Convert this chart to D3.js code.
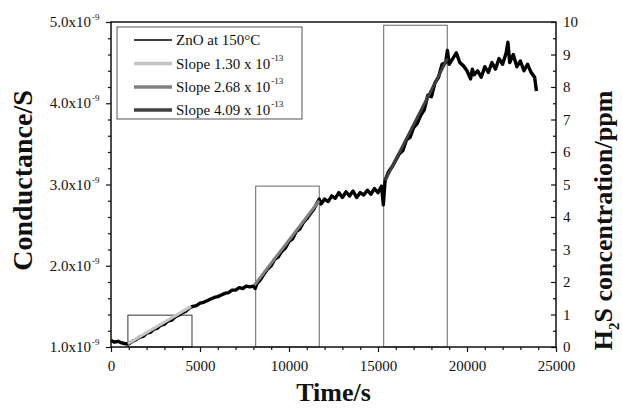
<!DOCTYPE html>
<html><head><meta charset="utf-8">
<script src="https://cdn.jsdelivr.net/npm/d3@7"></script>
<style>body{margin:0;background:#fff}svg{display:block}text{font-family:"Liberation Serif","Times New Roman",serif;fill:#111}</style>
</head><body>
<svg id="c" width="622" height="409"></svg>
<script>
// ---- data ----
const time = [0,200,400,600,800,1000,1200,1400,1600,1800,2000,2200,2400,2600,2800,3000,3200,3400,3600,3800,4000,4200,4400,4600,4800,5000,5200,5400,5600,5800,6000,6200,6400,6600,6800,7000,7200,7400,7600,7800,8000,8100,8200,8400,8600,8800,9000,9200,9400,9600,9800,10000,10200,10400,10600,10800,11000,11200,11400,11600,11700,11800,12000,12200,12400,12600,12800,13000,13200,13400,13600,13800,14000,14200,14400,14600,14800,15000,15200,15300,15400,15600,15800,16000,16200,16400,16600,16800,17000,17200,17400,17600,17800,18000,18200,18400,18600,18800,18900,19000,19200,19400,19600,19800,20000,20200,20300,20400,20600,20800,21000,21200,21400,21600,21800,22000,22200,22300,22400,22600,22800,23000,23200,23400,23600,23800,23900];
const conductance = [1.08,1.06,1.07,1.05,1.04,1.04,1.07,1.09,1.12,1.13,1.17,1.18,1.22,1.23,1.27,1.28,1.32,1.33,1.37,1.39,1.42,1.44,1.48,1.50,1.51,1.54,1.55,1.57,1.59,1.61,1.62,1.64,1.66,1.67,1.70,1.70,1.73,1.72,1.75,1.74,1.75,1.72,1.78,1.83,1.90,1.96,2.00,2.08,2.11,2.18,2.22,2.30,2.33,2.42,2.45,2.53,2.58,2.64,2.70,2.78,2.82,2.76,2.82,2.79,2.86,2.83,2.90,2.84,2.91,2.86,2.92,2.84,2.90,2.87,2.93,2.88,2.95,2.90,2.98,2.75,3.05,3.16,3.22,3.30,3.38,3.42,3.55,3.58,3.70,3.75,3.85,3.92,4.10,4.08,4.25,4.32,4.48,4.50,4.65,4.48,4.55,4.62,4.50,4.46,4.40,4.30,4.42,4.35,4.40,4.32,4.45,4.38,4.50,4.42,4.55,4.48,4.62,4.75,4.50,4.60,4.45,4.52,4.40,4.48,4.38,4.32,4.15]; // x1e-9 S
const slopeNames = ["Slope 1.30 x 10","Slope 2.68 x 10","Slope 4.09 x 10"];
const slopeT0 = [950,8050,15400], slopeT1 = [4500,11700,18900];
const slopeG0 = [1.04,1.76,3.05], slopeG1 = [1.50,2.80,4.55];
const slopeColors = ["#c4c4c4","#808080","#404040"];
const pulseStart = [950,8130,15320], pulseEnd = [4550,11700,18890], pulseConc = [0.98,4.95,9.9];
const leftTicks = [1,2,3,4,5], rightTicks = [0,1,2,3,4,5,6,7,8,9,10], xTicks = [0,5000,10000,15000,20000,25000];

// ---- layout ----
const svg = d3.select("#c");
const L=111, R=556, T=22, B=347;
const x = d3.scaleLinear().domain([0,25000]).range([L,R]);
const y = d3.scaleLinear().domain([1,5]).range([B,T]);
const y2 = d3.scaleLinear().domain([0,10]).range([B,T]);

// concentration pulses
pulseStart.forEach((s,i)=>{
  svg.append("rect").attr("x",x(s)).attr("y",y2(pulseConc[i])).attr("width",x(pulseEnd[i])-x(s)).attr("height",y2(0)-y2(pulseConc[i]))
    .attr("fill","none").attr("stroke",i===0?"#333":"#666").attr("stroke-width",1);
});

// main line
const line = d3.line().x((d,i)=>x(time[i])).y(d=>y(d));
svg.append("path").datum(conductance).attr("d",line).attr("fill","none").attr("stroke","#000").attr("stroke-width",3.4).attr("stroke-linejoin","round");

// slope lines
slopeT0.forEach((t,i)=>{
  svg.append("line").attr("x1",x(t)).attr("y1",y(slopeG0[i])).attr("x2",x(slopeT1[i])).attr("y2",y(slopeG1[i]))
    .attr("stroke",slopeColors[i]).attr("stroke-width",3);
});

// frame
svg.append("rect").attr("x",L).attr("y",T).attr("width",R-L).attr("height",B-T).attr("fill","none").attr("stroke","#111").attr("stroke-width",1.5);

// axes
const xAx = d3.axisBottom(x).tickValues(xTicks).tickSize(5).tickFormat(d3.format("d"));
const gx = svg.append("g").attr("transform",`translate(0,${B})`).call(xAx);
gx.select(".domain").remove();
gx.selectAll("text").attr("font-size",15).attr("dy","1.05em");
const gxm = svg.append("g").attr("transform",`translate(0,${B})`).call(d3.axisBottom(x).tickValues(d3.range(0,25001,1000).filter(v=>v%5000)).tickSize(3).tickFormat(""));
gxm.select(".domain").remove();

const yAx = d3.axisLeft(y).tickValues(leftTicks).tickSize(5).tickFormat("");
const gy = svg.append("g").attr("transform",`translate(${L},0)`).call(yAx);
gy.select(".domain").remove();
const gym = svg.append("g").attr("transform",`translate(${L},0)`).call(d3.axisLeft(y).tickValues(d3.range(1,5.01,0.2).filter(v=>Math.abs(v-Math.round(v))>0.01)).tickSize(3).tickFormat(""));
gym.select(".domain").remove();
leftTicks.forEach(v=>{
  const t = svg.append("text").attr("x",91).attr("y",y(v)+5).attr("text-anchor","end").attr("font-size",15);
  t.text(v.toFixed(1)+"x10");
  svg.append("text").attr("x",92).attr("y",y(v)-2).attr("font-size",9).text("-9");
});

const gy2 = svg.append("g").attr("transform",`translate(${R},0)`).call(d3.axisLeft(y2).tickValues(rightTicks).tickSize(5).tickFormat(""));
gy2.select(".domain").remove();
const gy2m = svg.append("g").attr("transform",`translate(${R},0)`).call(d3.axisLeft(y2).tickValues(d3.range(0.5,10,1)).tickSize(3).tickFormat(""));
gy2m.select(".domain").remove();
rightTicks.forEach(v=>{
  svg.append("text").attr("x",R+7).attr("y",y2(v)+5).attr("font-size",15).text(v);
});
svg.selectAll(".tick line").attr("stroke","#111").attr("stroke-width",1.2);

// titles
svg.append("text").attr("x",(L+R)/2).attr("y",401).attr("text-anchor","middle").attr("font-size",26).attr("font-weight","bold").text("Time/s");
svg.append("text").attr("transform",`translate(32,${(T+B)/2-4}) rotate(-90)`).attr("text-anchor","middle").attr("font-size",28).attr("font-weight","bold").text("Conductance/S");
const rt = svg.append("text").attr("transform",`translate(612,${(T+B)/2+36}) rotate(-90)`).attr("text-anchor","middle").attr("font-size",26).attr("font-weight","bold");
rt.append("tspan").text("H");
rt.append("tspan").attr("font-size",15).attr("dy",7).text("2");
rt.append("tspan").attr("dy",-7).text("S concentration/ppm");

// legend
svg.append("rect").attr("x",117).attr("y",27).attr("width",185).attr("height",92).attr("fill","#fff").attr("stroke","#555").attr("stroke-width",1);
const legNames = ["ZnO at 150°C"].concat(slopeNames), legCol = ["#000"].concat(slopeColors), legW=[1.5,3.5,3.5,3.5];
const legY = [40,63.5,87,110];
legNames.forEach((n,i)=>{
  svg.append("line").attr("x1",134).attr("x2",172).attr("y1",legY[i]).attr("y2",legY[i]).attr("stroke",legCol[i]).attr("stroke-width",legW[i]);
  const t = svg.append("text").attr("x",176).attr("y",legY[i]+5).attr("font-size",15).text(n);
  if(i>0) svg.append("text").attr("x",176+t.node().getComputedTextLength()+1).attr("y",legY[i]-3).attr("font-size",9).text("-13");
});
</script>
</body></html>
